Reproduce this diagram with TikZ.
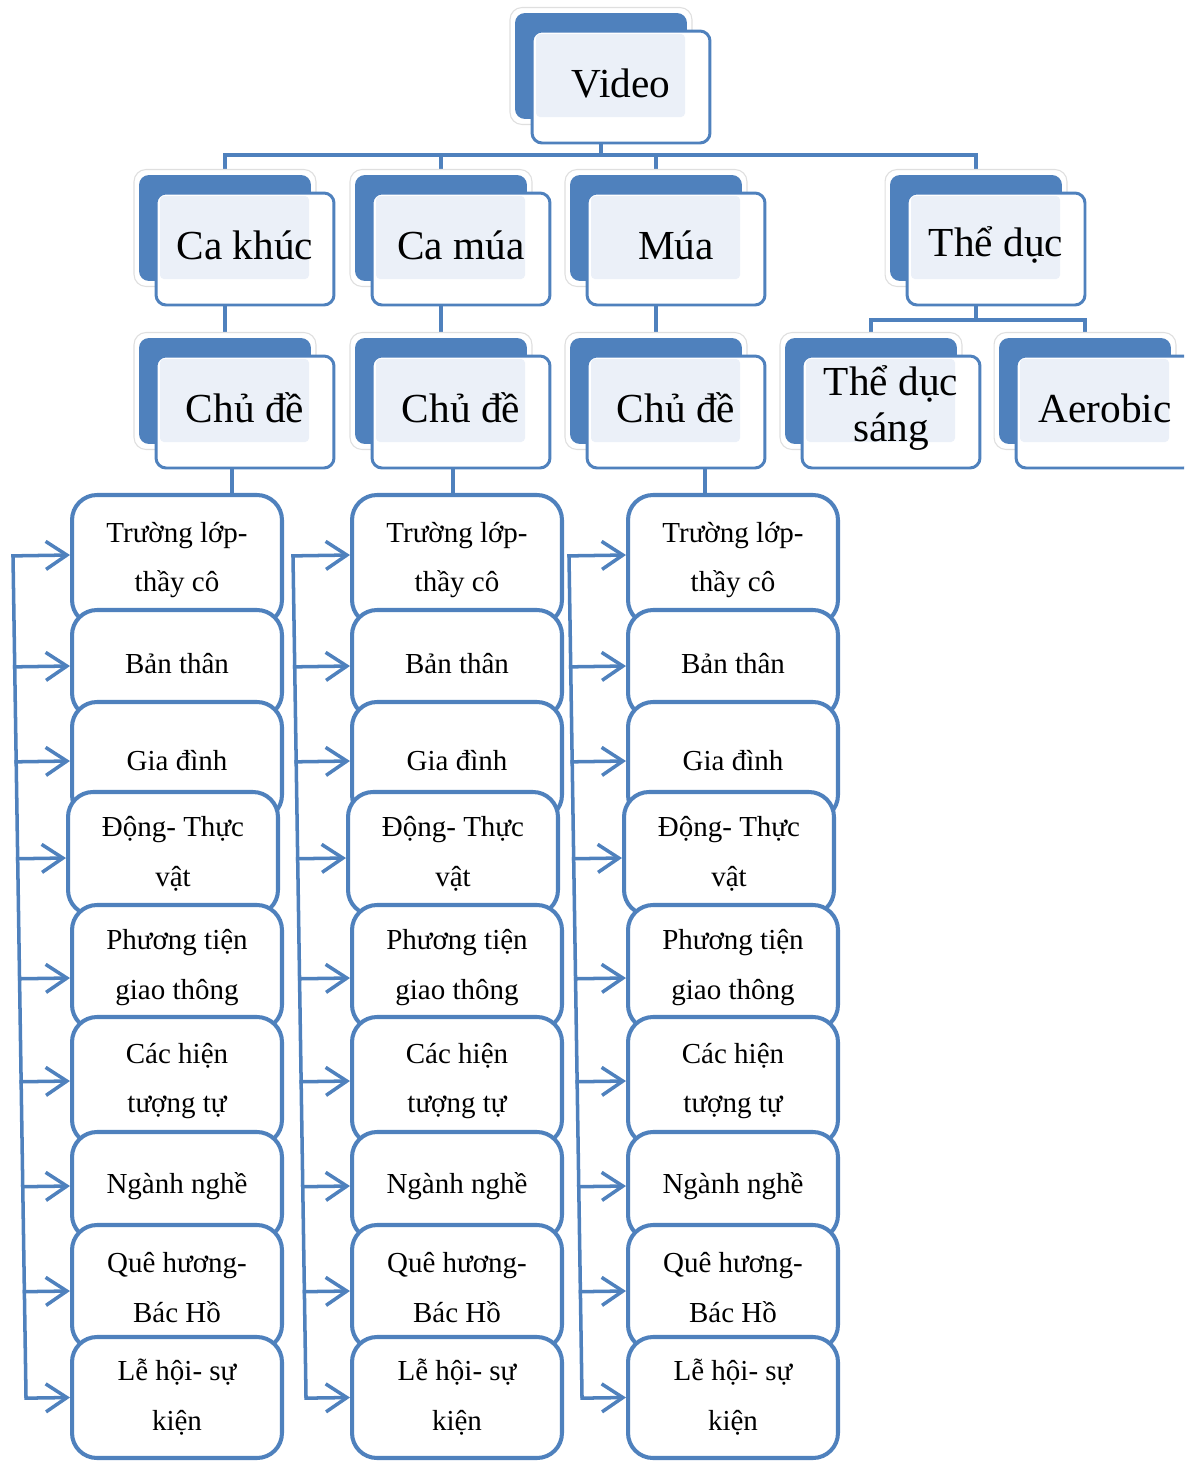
\documentclass[tikz,border=0pt]{standalone}
\usepackage{fontspec}
\setmainfont{Liberation Serif}
\usetikzlibrary{arrows.meta,calc,backgrounds}
\definecolor{accent}{HTML}{4F81BD}
\definecolor{tint}{HTML}{EBF0F8}

\begin{document}
\begin{tikzpicture}[x=0.02cm,y=-0.02cm,
  halo/.style={draw=gray!25,line width=0.6pt,fill=white,rounded corners=0.24cm,
    minimum width=3.64cm,minimum height=2.34cm,inner sep=0pt},
  back/.style={fill=accent,rounded corners=0.2cm,minimum width=3.44cm,
    minimum height=2.12cm,inner sep=0pt},
  front/.style={draw=accent,line width=1.7pt,fill=white,rounded corners=0.2cm,
    minimum width=3.56cm,minimum height=2.24cm,inner sep=0pt},
  title/.style={font=\fontsize{23.5}{26.7}\selectfont,align=center,inner sep=0pt},
  item/.style={draw=accent,line width=2.3pt,fill=white,rounded corners=0.5cm,
    minimum width=4.2cm,inner sep=0pt,align=center,
    font=\fontsize{16.5}{28.4}\selectfont},
  link/.style={draw=accent,line width=2.3pt},
  feed/.style={draw=accent,line width=2pt,line cap=rect},
  pointer/.style={feed,-{Straight Barb[length=0.42cm,width=0.56cm]}}]

  \useasboundingbox (0,0) rectangle (1184,1461);
  \clip (0,0) rectangle (1184,1461);

  % topic boxes
  \foreach \nm/\x/\y/\txt in {video/515/13/Video, cakhuc/139/175/Ca khúc,
      camua/355/175/Ca múa, mua/570/175/Múa, theduc/890/175/Thể dục,
      chude1/139/338/Chủ đề, chude2/355/338/Chủ đề, chude3/570/338/Chủ đề,
      sang/785/338/{Thể dục\\sáng}, aerobic/999/338/Aerobic}{
    \node[halo] at (\x+86,\y+53) {};
    \node[back] (\nm) at (\x+86,\y+53) {};
    \node[front] (\nm-f) at (\x+106,\y+74) {};
    \fill[tint,rounded corners=0.08cm] (\x+21,\y+21) rectangle (\x+170,\y+104);
    \node[title] (\nm-t) at (\x+106,\y+70) {\txt};
  }

  % tree links
  \begin{scope}[on background layer]
    \foreach \kid in {cakhuc,camua,mua,theduc}
      \draw[link] (video.south) -- ++(0,36) -| (\kid.north);
    \foreach \up/\dn in {cakhuc/chude1,camua/chude2,mua/chude3}
      \draw[link] (\up.south) -- (\dn.north);
    \foreach \kid in {sang,aerobic}
      \draw[link] (theduc.south) -- ++(0,39) -| (\kid.north);
  \end{scope}

  % theme lists
  \foreach \col/\cx in {1/177,2/457,3/733}{
    \foreach \r/\cy/\h/\dx/\txt in {1/560/130/0/{Trường lớp-\\thầy cô},
        2/664/108/0/Bản thân, 3/761/118/0/Gia đình,
        4/853.5/123/-4/{Động- Thực\\vật}, 5/967.5/125/0/{Phương tiện\\giao thông},
        6/1081/128/0/{Các hiện\\tượng tự}, 7/1186/108/0/Ngành nghề,
        8/1287.5/125/0/{Quê hương-\\Bác Hồ}, 9/1397.5/121/0/{Lễ hội- sự\\kiện}}
      \node[item,minimum height=\h*0.02cm] (k\col-\r) at (\cx+\dx,\cy) {\txt};
  }

  % drops from Chu de
  \foreach \col/\dx in {1/55,2/-4,3/-28}{
    \coordinate (drop\col) at ($(k\col-1.north)+(\dx,0)$);
    \draw[link] (drop\col) -- (drop\col |- chude\col-f.south);
  }

  % feeder lines
  \foreach \col/\bx in {1/13,2/293,3/569}{
    \coordinate (top\col) at (\bx,556);
    \coordinate (end\col) at (\bx+13,1396);
    \draw[feed] (top\col) -- (end\col);
    \foreach \r/\ay in {1/0.1cm,2/-0.04cm,3/0cm,4/-0.09cm,5/-0.21cm,
        6/0cm,7/0cm,8/-0.07cm,9/0cm}{
      \coordinate (in\col-\r) at ([yshift=\ay]k\col-\r.west);
      \draw[pointer] ($(top\col)!(in\col-\r)!(end\col)$) -- (in\col-\r);
    }
  }
\end{tikzpicture}
\end{document}
